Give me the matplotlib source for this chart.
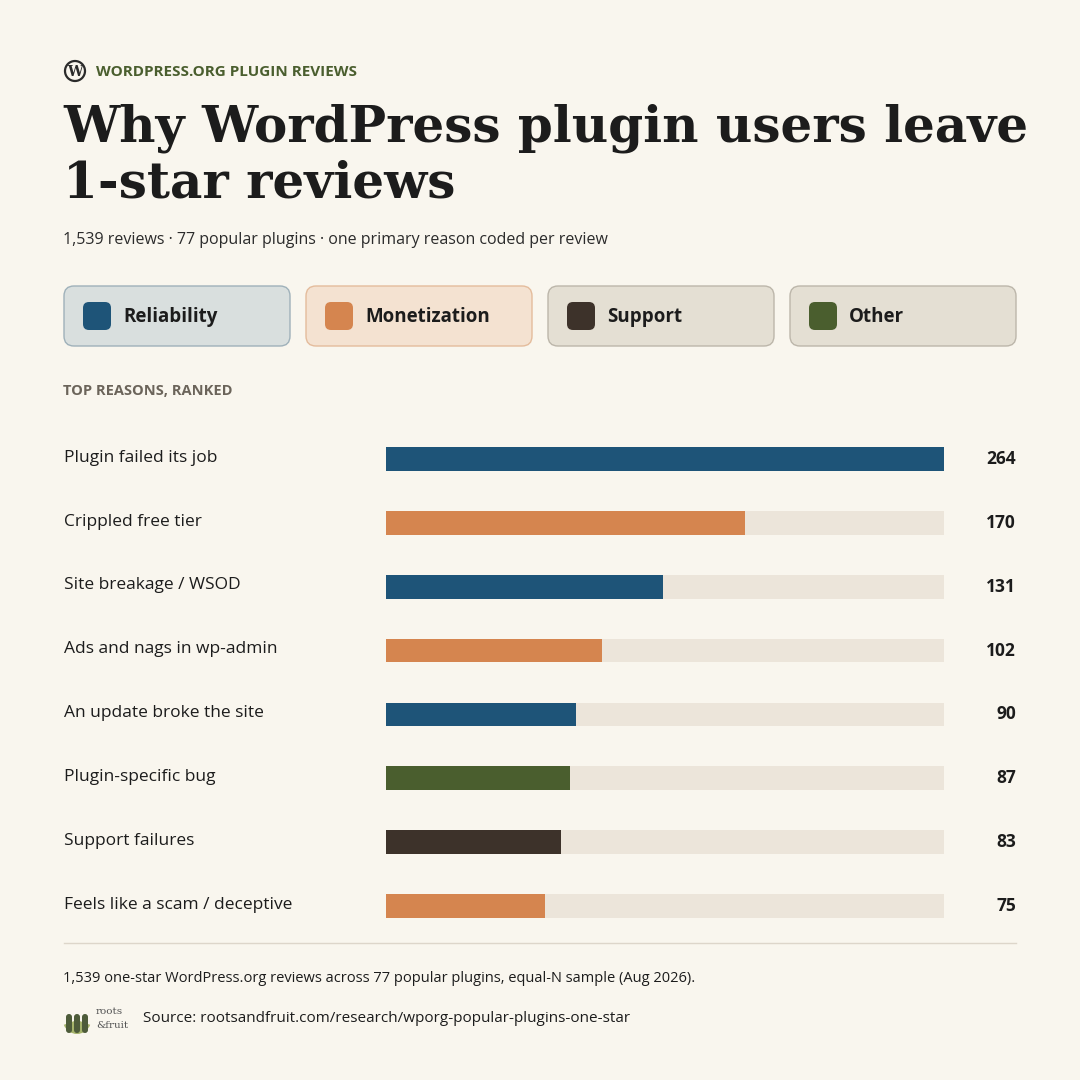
import matplotlib.pyplot as plt
from matplotlib.patches import FancyBboxPatch, Circle, Wedge
from matplotlib.transforms import blended_transform_factory

reasons = ["Plugin failed its job", "Crippled free tier", "Site breakage / WSOD",
           "Ads and nags in wp-admin", "An update broke the site", "Plugin-specific bug",
           "Support failures", "Feels like a scam / deceptive"]
counts = [264, 170, 131, 102, 90, 87, 83, 75]
groups = ["Reliability", "Monetization", "Reliability", "Monetization",
          "Reliability", "Other", "Support", "Monetization"]

categories = ["Reliability", "Monetization", "Support", "Other"]
cat_color = {"Reliability": "#1e5478", "Monetization": "#d5854f",
             "Support": "#3d322a", "Other": "#4a5e2e"}
cat_fill = {"Reliability": "#d9dfde", "Monetization": "#f4e2d1",
            "Support": "#e4dfd3", "Other": "#e4dfd3"}
cat_edge = {"Reliability": "#9fb1ba", "Monetization": "#e4bc9c",
            "Support": "#bcb6aa", "Other": "#bcb6aa"}

BG = "#f9f6ee"
TRACK = "#ece5da"
SANS = ["Open Sans", "DejaVu Sans"]

fig = plt.figure(figsize=(10.8, 10.8), dpi=100, facecolor=BG)
ov = fig.add_axes([0, 0, 1, 1])
ov.set_xlim(0, 1080)
ov.set_ylim(1080, 0)
ov.axis("off")

# header
ov.add_patch(Circle((75, 71), 10, fill=False, ec="#2b2b2b", lw=1.6))
ov.text(75, 72, "W", ha="center", va="center", fontsize=10, family="DejaVu Serif",
        fontweight="bold", color="#2b2b2b")
ov.text(96, 72, "WORDPRESS.ORG PLUGIN REVIEWS", ha="left", va="center", fontsize=11,
        fontweight="bold", color="#4a5e2e", family=SANS)
ov.text(63, 128, "Why WordPress plugin users leave", ha="left", va="center",
        fontsize=36, fontweight="bold", family="DejaVu Serif", color="#1c1c1c")
ov.text(63, 184, "1-star reviews", ha="left", va="center",
        fontsize=36, fontweight="bold", family="DejaVu Serif", color="#1c1c1c")
ov.text(63, 240, "1,539 reviews · 77 popular plugins · one primary reason coded per review",
        ha="left", va="center", fontsize=11.5, family=SANS, color="#2b2b2b")

# category legend boxes
box_x = [64, 306, 548, 790]
for x0, cat in zip(box_x, categories):
    ov.add_patch(FancyBboxPatch((x0, 286), 226, 60, boxstyle="round,pad=0,rounding_size=10",
                                fc=cat_fill[cat], ec=cat_edge[cat], lw=1))
    ov.add_patch(FancyBboxPatch((x0 + 19, 302), 28, 28, boxstyle="round,pad=0,rounding_size=6",
                                fc=cat_color[cat], ec="none"))
    ov.text(x0 + 59, 317, cat, ha="left", va="center", fontsize=13.5, fontweight="bold",
            family=SANS, color="#1c1c1c")

ov.text(63, 391, "TOP REASONS, RANKED", ha="left", va="center", fontsize=10.5,
        fontweight="bold", family=SANS, color="#6b645a")

# bars
top_px, bot_px = 427, 938
bx = fig.add_axes([386 / 1080, 1 - bot_px / 1080, 558 / 1080, (bot_px - top_px) / 1080])
bx.set_facecolor("none")
bx.axis("off")
n = len(counts)
ypos = list(range(n))
bx.set_xlim(0, max(counts))
bx.set_ylim(n - 0.5, -0.5)
bx.barh(ypos, [max(counts)] * n, height=0.37, color=TRACK)
bx.barh(ypos, counts, height=0.37, color=[cat_color[g] for g in groups])
tr = blended_transform_factory(fig.transFigure, bx.transData)
for y, name, v in zip(ypos, reasons, counts):
    fig.text(64 / 1080, 0, name, transform=tr, ha="left", va="center", fontsize=12.5,
             family=SANS, color="#1c1c1c").set_y(y - 0.02)
    fig.text(1016 / 1080, 0, str(v), transform=tr, ha="right", va="center", fontsize=12.5,
             fontweight="bold", family=SANS, color="#1c1c1c").set_y(y)

# footer
ov.plot([64, 1016], [943, 943], color="#ddd6ca", lw=1)
ov.text(63, 979, "1,539 one-star WordPress.org reviews across 77 popular plugins, equal-N sample (Aug 2026).",
        ha="left", va="center", fontsize=10.5, family=SANS, color="#1c1c1c")
ov.add_patch(Wedge((77, 1020), 14, 20, 160, fc="#a5b36b", ec="none"))
for dx in (-8, 0, 8):
    ov.add_patch(FancyBboxPatch((77 + dx - 3, 1014), 6, 19, boxstyle="round,pad=0,rounding_size=3",
                                fc="#4e5c3a", ec="none"))
ov.text(96, 1012, "roots", ha="left", va="center", fontsize=7.5, family="DejaVu Serif", color="#555")
ov.text(96, 1025, "&fruit", ha="left", va="center", fontsize=7.5, family="DejaVu Serif", color="#555")
ov.text(143, 1019, "Source: rootsandfruit.com/research/wporg-popular-plugins-one-star",
        ha="left", va="center", fontsize=11, family=SANS, color="#1c1c1c")

fig.savefig("out.png", dpi=100, facecolor=BG)
